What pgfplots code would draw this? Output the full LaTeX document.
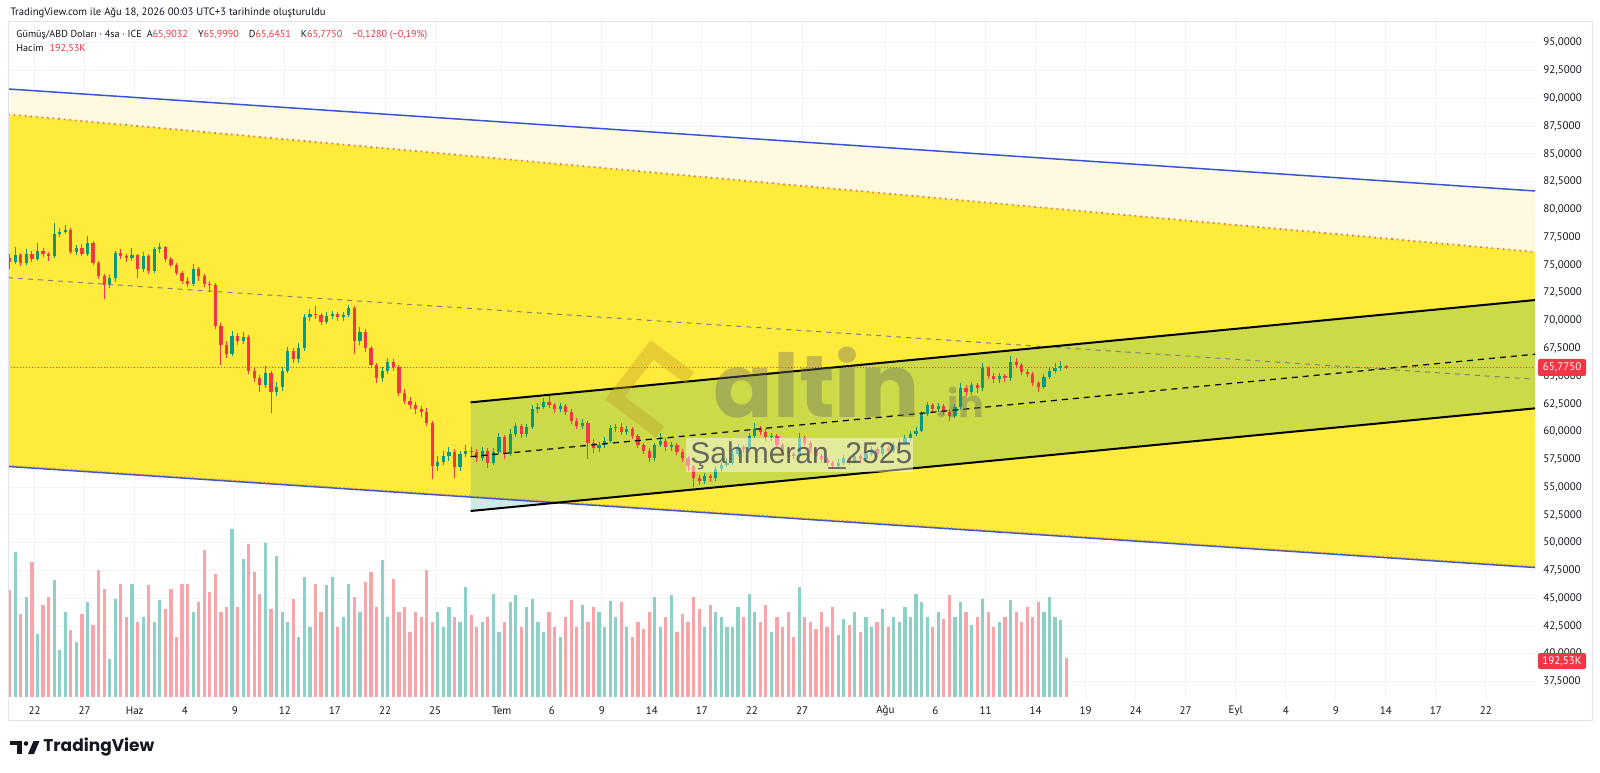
\documentclass[border=0pt]{standalone}
\usepackage{fontspec}
\setmainfont{PT Sans}
\newfontfamily\libsans{Liberation Sans}
\newfontfamily\popfont{Poppins}
\usepackage{pgfplots}
\usepackage{pgfplotstable}
\pgfplotsset{compat=1.18}

\definecolor{tvtext}{RGB}{19,23,34}
\definecolor{tvgrid}{RGB}{240,243,250}
\definecolor{tvframe}{RGB}{224,227,235}
\definecolor{tvred}{RGB}{242,54,69}
\definecolor{tvgreen}{RGB}{8,153,129}
\definecolor{chyellow}{RGB}{255,235,59}
\definecolor{chcream}{RGB}{255,249,224}
\definecolor{chblue}{RGB}{55,85,215}
\definecolor{chdot}{RGB}{225,110,50}
\definecolor{chteal}{RGB}{0,150,136}
\definecolor{wmgray}{RGB}{110,110,100}
\definecolor{wmgold}{RGB}{190,160,40}

% 4h silver candles, merged two by two: open high low close volume(K)
\pgfplotstableread{
o h l c vol
75.6 76.0 74.6 75.3 535
75.3 76.6 75.1 75.9 725
75.9 76.1 74.9 75.2 415
75.2 76.4 75.0 76.0 500
76.0 76.3 75.3 75.5 675
75.5 77.0 75.4 76.3 315
76.3 76.5 75.7 76.0 460
76.0 76.2 75.4 75.8 500
75.8 78.8 75.6 77.8 585
77.8 78.3 77.5 78.0 235
78.0 78.6 77.8 78.2 425
78.2 78.3 76.0 76.2 335
76.2 76.8 75.9 76.5 275
76.5 76.9 75.8 76.0 415
76.0 77.6 75.8 77.0 475
77.0 77.2 75.0 75.2 360
75.2 75.4 73.7 74.0 635
74.0 74.2 71.9 73.2 540
73.2 74.1 72.9 73.8 190
73.8 76.3 73.5 76.1 490
76.1 76.4 75.5 75.8 565
75.8 76.0 75.3 75.6 400
75.6 76.5 75.4 75.9 565
75.9 76.0 73.8 74.6 375
74.6 76.2 74.4 75.8 400
75.8 76.0 74.2 74.5 560
74.5 76.6 74.3 76.4 375
76.4 77.0 76.1 76.6 485
76.6 76.7 75.3 75.5 440
75.5 75.7 74.8 75.0 540
75.0 75.2 74.1 74.3 300
74.3 74.5 73.3 73.6 565
73.6 73.9 73.0 73.3 565
73.3 75.1 73.1 74.6 425
74.6 74.8 73.6 74.0 475
74.0 74.2 73.0 73.3 735
73.3 73.6 72.6 73.2 525
73.2 73.4 69.2 69.5 615
69.5 69.8 66.0 67.8 425
67.8 68.2 66.6 67.0 450
67.0 69.1 66.8 68.6 840
68.6 68.9 67.8 68.2 450
68.2 69.0 67.9 68.5 690
68.5 68.7 65.2 65.5 765
65.5 65.8 64.5 64.8 625
64.8 65.1 63.6 64.2 515
64.2 65.9 63.9 65.3 770
65.3 65.5 61.7 63.6 440
63.6 64.5 63.2 64.0 705
64.0 65.8 63.7 65.5 425
65.5 67.6 65.3 67.3 375
67.3 67.5 66.2 66.5 490
66.5 68.0 66.2 67.5 300
67.5 70.6 67.3 70.3 600
70.3 71.0 70.0 70.6 350
70.6 71.3 70.1 70.5 565
70.5 70.7 69.6 69.9 425
69.9 70.8 69.7 70.4 560
70.4 70.9 70.1 70.6 600
70.6 70.8 70.0 70.3 350
70.3 70.8 70.0 70.5 400
70.5 71.4 70.3 71.1 565
71.1 71.3 67.0 68.2 500
68.2 69.4 67.8 69.0 425
69.0 69.2 67.2 67.5 575
67.5 67.7 65.7 66.0 625
66.0 66.2 64.4 64.8 450
64.8 65.8 64.5 65.5 685
65.5 66.6 65.2 66.3 400
66.3 66.5 65.5 65.8 590
65.8 66.0 63.2 63.5 425
63.5 63.8 62.5 62.8 450
62.8 63.1 62.0 62.4 325
62.4 62.7 61.6 62.0 425
62.0 62.3 61.3 61.8 400
61.8 62.1 60.5 60.8 635
60.8 61.0 55.7 56.9 375
56.9 57.8 56.5 57.3 425
57.3 58.3 57.0 57.8 350
57.8 58.6 57.4 58.2 450
58.2 58.4 55.8 56.8 400
56.8 58.3 56.5 58.0 375
58.0 58.8 57.7 58.3 550
58.3 58.6 57.8 58.2 410
58.2 58.4 57.3 57.6 350
57.6 58.6 57.4 58.3 375
58.3 58.5 56.7 57.2 400
57.2 58.5 57.0 58.2 515
58.2 59.9 58.0 59.5 325
59.5 59.7 57.5 58.0 375
58.0 60.2 57.8 59.8 475
59.8 60.8 59.5 60.5 510
60.5 60.7 59.4 59.8 350
59.8 60.7 59.5 60.4 450
60.4 62.4 60.2 62.0 490
62.0 62.6 61.7 62.2 375
62.2 63.0 62.0 62.7 325
62.7 63.2 62.1 62.4 425
62.4 62.6 61.7 62.0 350
62.0 62.6 61.8 62.3 300
62.3 62.5 61.5 61.8 400
61.8 62.0 60.7 61.0 485
61.0 61.2 60.2 60.5 350
60.5 61.1 60.2 60.8 460
60.8 61.0 57.5 59.0 375
59.0 59.3 58.1 58.5 450
58.5 59.1 58.2 58.8 425
58.8 59.5 58.5 59.2 350
59.2 60.6 59.0 60.3 480
60.3 60.7 60.0 60.4 400
60.4 60.8 59.7 60.0 475
60.0 60.5 59.7 60.2 350
60.2 60.4 59.3 59.6 300
59.6 59.8 58.5 58.8 375
58.8 59.0 58.0 58.3 340
58.3 58.5 57.3 57.6 425
57.6 59.0 57.4 58.8 500
58.8 59.9 58.6 59.2 350
59.2 59.4 58.3 58.6 400
58.6 59.1 58.3 58.8 510
58.8 59.0 57.9 58.2 325
58.2 58.4 57.3 57.6 415
57.6 57.8 56.5 56.9 375
56.9 57.0 55.0 55.8 500
55.8 56.1 55.2 55.6 440
55.6 56.3 55.3 56.0 350
56.0 56.2 55.5 55.8 460
55.8 56.9 55.6 56.6 425
56.6 57.3 56.4 57.0 400
57.0 57.6 56.8 57.2 350
57.2 58.3 57.0 58.0 350
58.0 58.9 57.8 58.6 450
58.6 58.8 58.1 58.4 400
58.4 59.9 58.2 59.6 515
59.6 60.8 59.4 60.2 425
60.2 60.5 59.7 60.0 375
60.0 60.2 59.2 59.5 460
59.5 59.9 59.2 59.6 325
59.6 59.8 58.5 58.8 400
58.8 59.0 58.0 58.3 350
58.3 58.5 57.7 58.0 425
58.0 58.2 57.5 57.8 300
57.8 59.9 57.6 59.4 550
59.4 59.6 58.7 59.0 400
59.0 59.2 58.1 58.4 375
58.4 58.6 57.5 57.8 340
57.8 58.0 57.2 57.5 425
57.5 57.7 56.9 57.2 350
57.2 57.4 56.6 56.9 450
56.9 57.5 56.7 57.2 310
57.2 57.9 57.0 57.6 390
57.6 57.8 57.0 57.3 360
57.3 58.1 57.1 57.8 425
57.8 58.0 57.2 57.5 325
57.5 58.3 57.3 58.0 400
58.0 58.7 57.8 58.4 350
58.4 58.6 57.7 58.0 375
58.0 58.8 57.8 58.5 440
58.5 58.7 58.0 58.3 350
58.3 59.1 58.1 58.8 400
58.8 59.3 58.6 59.0 375
59.0 59.7 58.8 59.4 450
59.4 60.1 59.2 59.8 400
59.8 60.4 59.6 60.1 515
60.1 61.9 60.0 61.6 475
61.6 62.7 61.4 62.4 400
62.4 62.6 61.7 62.0 350
62.0 62.6 61.8 62.3 425
62.3 62.5 61.5 61.8 390
61.8 62.0 61.0 61.4 510
61.4 62.5 61.2 62.2 400
62.2 64.4 62.0 63.9 475
63.9 64.2 63.2 63.6 425
63.6 64.5 63.3 64.2 360
64.2 64.4 63.5 63.9 400
63.9 66.2 63.7 65.7 490
65.7 65.9 64.7 65.0 425
65.0 65.3 64.4 64.7 350
64.7 65.3 64.4 65.0 375
65.0 65.2 64.5 64.8 400
64.8 66.8 64.6 66.3 485
66.3 66.6 65.7 66.0 425
66.0 66.2 65.1 65.4 375
65.4 65.6 64.9 65.2 450
65.2 65.4 64.1 64.4 400
64.4 64.6 63.6 64.0 475
64.0 65.2 63.8 64.9 425
64.9 65.8 64.7 65.5 500
65.5 66.2 65.3 65.7 400
65.7 66.4 65.5 65.9 385
65.9032 65.999 65.6451 65.775 192.53
}\candles

\begin{document}
\begin{tikzpicture}
\path[use as bounding box] (0,0) rectangle (800pt,386pt);
\fill[white] (0,0) rectangle (800pt,386pt);

% price pane
\begin{axis}[
  at={(4pt,36pt)}, anchor=south west, scale only axis,
  width=763.5pt, height=339pt,
  xmin=-1.6, xmax=89.94, ymin=35.845, ymax=96.88,
  axis line style={draw=none}, major tick length=0pt,
  xtick={0,3,6,9,12,15,18,21,24,28,31,34,37,40,43,46,51,54,57,60,63,66,69,72,75,78,81,84,87},
  xticklabels={22,27,Haz,4,9,12,17,22,25,Tem,6,9,14,17,22,27,Ağu,6,11,14,19,24,27,Eyl,4,9,14,17,22},
  ytick={37.5,40,...,95},
  yticklabel pos=right,
  tick label style={font=\fontsize{5.5}{6}\selectfont, text=tvtext},
  yticklabel style={anchor=west, inner sep=0pt, xshift=4pt},
  xticklabel style={anchor=center, inner sep=0pt, yshift=-5.5pt},
  /pgf/number format/fixed, /pgf/number format/fixed zerofill,
  /pgf/number format/precision=4, /pgf/number format/use comma,
  /pgf/number format/assume math mode=true,
  grid=major, major grid style={draw=tvgrid, line width=0.5pt},
  colormap={updown}{rgb255=(242,54,69) rgb255=(8,153,129)},
  point meta min=0, point meta max=1,
]
% channel fills
\addplot[draw=none, fill=chcream] coordinates {(-1.6,90.85) (89.94,81.67) (89.94,76.18) (-1.6,88.57)} -- cycle;
\addplot[draw=none, fill=chyellow] coordinates {(-1.6,88.57) (89.94,76.18) (89.94,47.77) (-1.6,56.87)} -- cycle;
\addplot[draw=none, fill=chteal, fill opacity=0.2] coordinates {(26.13,62.64) (89.94,71.85) (89.94,62.1) (26.13,52.86)} -- cycle;

% candles: wicks then bodies
\addplot[mark=none, quiver={u=0, v=\thisrow{h}-\thisrow{l}, colored,
    every arrow/.append style={line width=0.5pt}},
  point meta={ifthenelse(\thisrow{c}<\thisrow{o},0,1)}]
  table[x expr=\coordindex/3-1.5, y=l] {\candles};
\addplot[mark=none, quiver={u=0, v=\thisrow{c}-\thisrow{o}, colored,
    every arrow/.append style={line width=1.6pt}},
  point meta={ifthenelse(\thisrow{c}<\thisrow{o},0,1)}]
  table[x expr=\coordindex/3-1.5, y=o] {\candles};

% drawn lines
\addplot[chblue, line width=0.75pt] coordinates {(-1.6,90.85) (89.94,81.67)};
\addplot[chdot, line width=0.8pt, dash pattern=on 0.8pt off 2pt] coordinates {(-1.6,88.57) (89.94,76.18)};
\addplot[gray, line width=0.5pt, dash pattern=on 2.5pt off 2.5pt] coordinates {(-1.6,73.86) (89.94,64.72)};
\addplot[chblue, line width=0.75pt] coordinates {(-1.6,56.87) (89.94,47.77)};
\addplot[chdot, line width=0.6pt, dash pattern=on 0.6pt off 1.5pt] coordinates {(-1.6,56.95) (89.94,47.85)};
\addplot[tvred, line width=0.5pt, dash pattern=on 0.5pt off 1pt] coordinates {(-1.6,65.775) (89.94,65.775)};
\addplot[black, line width=1pt] coordinates {(26.13,62.64) (89.94,71.85)};
\addplot[black, line width=1pt] coordinates {(26.13,52.86) (89.94,62.1)};
\addplot[black, line width=0.6pt, dash pattern=on 3pt off 2.5pt] coordinates {(26.13,57.75) (89.94,66.975)};
\end{axis}

% volume pane
\begin{axis}[
  at={(4pt,36pt)}, anchor=south west, scale only axis,
  width=763.5pt, height=339pt,
  xmin=-1.6, xmax=89.94, ymin=-15, ymax=3375,
  hide axis,
  colormap={vol}{rgb255=(247,165,168) rgb255=(140,208,198)},
  point meta min=0, point meta max=1,
]
\addplot[mark=none, quiver={u=0, v=\thisrow{vol}, colored,
    every arrow/.append style={line width=1.6pt}},
  point meta={ifthenelse(\thisrow{c}<\thisrow{o},0,1)}]
  table[x expr=\coordindex/3-1.5, y expr=0] {\candles};
\end{axis}

\begin{scope}[shift={(0pt,386pt)}, x=0.5pt, y=-0.5pt]
\draw[tvframe, line width=0.5pt] (8,22) rectangle (1592,720);
% header
\node[anchor=west, inner sep=0pt, font=\fontsize{5.35}{6}\selectfont, text=tvtext] at (10,12.5)
  {TradingView.com ile Ağu 18, 2026 00:03 UTC+3 tarihinde oluşturuldu};
\node[anchor=west, inner sep=0pt, font=\fontsize{5.05}{6}\selectfont, text=tvtext] at (16,35)
  {Gümüş/ABD Doları · 4sa · ICE\hspace{2.5pt}A\textcolor{tvred}{65,9032}\hspace{5pt}Y\textcolor{tvred}{65,9990}\hspace{5pt}D\textcolor{tvred}{65,6451}\hspace{5pt}K\textcolor{tvred}{65,7750}\hspace{5pt}\textcolor{tvred}{−0,1280 (−0,19\%)}};
\node[anchor=west, inner sep=0pt, font=\fontsize{5.05}{6}\selectfont, text=tvtext] at (16,49)
  {Hacim\hspace{3pt}\textcolor{tvred}{192,53K}};
% price badges
\fill[tvred, rounded corners=1pt] (1538,359) rectangle (1586,376);
\node[text=white, inner sep=0pt, font=\fontsize{5.5}{6}\selectfont] at (1562,367.5) {65,7750};
\fill[tvred, rounded corners=1pt] (1538,653) rectangle (1586,669);
\node[text=white, inner sep=0pt, font=\fontsize{5.5}{6}\selectfont] at (1562,661) {192,53K};
% watermark
\draw[wmgold, draw opacity=0.4, line width=7pt, line join=miter] (690,378) -- (652,350) -- (615,398) -- (660,432);
\node[anchor=base west, inner sep=0pt, font=\popfont\bfseries\fontsize{44}{46}\selectfont, text=wmgray, text opacity=0.4] at (713,417) {altin};
\node[anchor=base west, inner sep=0pt, font=\popfont\bfseries\fontsize{19}{20}\selectfont, text=wmgray, text opacity=0.4] at (936,417) {.in};
\fill[white, fill opacity=0.45] (686,438) rectangle (913,472);
\node[anchor=base west, inner sep=0pt, font=\libsans\fontsize{15}{16}\selectfont, text=black!68, text opacity=0.85] at (690,463) {Şahmeran\_2525};
% footer logo
\fill[tvtext] (10,741) rectangle (22,745);
\fill[tvtext] (16.5,745) rectangle (22,754);
\fill[tvtext] (26,743.5) circle (2.3);
\fill[tvtext] (28,754) -- (33.5,741) -- (39.5,741) -- (34,754) -- cycle;
\node[anchor=west, inner sep=0pt, font=\popfont\bfseries\fontsize{8.5}{10}\selectfont, text=tvtext] at (43,747.5) {TradingView};
\end{scope}
\end{tikzpicture}
\end{document}
